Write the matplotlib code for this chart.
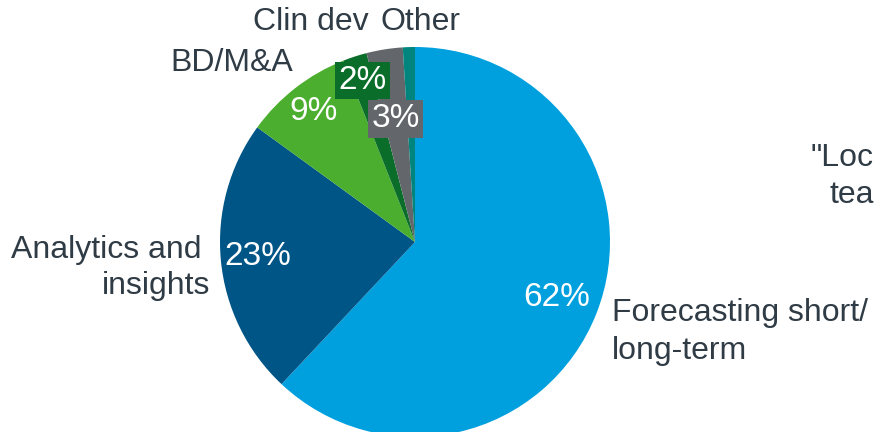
import numpy as np
import matplotlib.pyplot as plt

# ===== data =====
categories = ["Forecasting short/\nlong-term", "Analytics and \ninsights", "BD/M&A",
              "Clin dev", "", "Other"]
shares = [62, 23, 9, 2, 3, 1]
pct_labels = ["62%", "23%", "9%", "2%", "3%", ""]
colors = ["#00A0DF", "#005587", "#4BAE2E", "#0A6E2A", "#63676B", "#00857E"]

W, H = 874, 432
CX, CY, R = 415, H - 242, 195
TXT = "#2F3B45"
FS_CAT, FS_PCT = 23, 24

plt.rcParams["font.family"] = ["Liberation Sans", "DejaVu Sans"]

fig = plt.figure(figsize=(W / 100, H / 100), dpi=100)
ax = fig.add_axes([0, 0, 1, 1])

wedges, _ = ax.pie(shares, colors=colors, startangle=90, counterclock=False,
                   center=(CX, CY), radius=R, frame=True,
                   wedgeprops=dict(linewidth=0))
ax.set_xlim(0, W)
ax.set_ylim(0, H)
ax.set_aspect("equal")
ax.axis("off")

# percentage labels inside the slices
rfrac = [0.78, 0.81, 0.85, 0.87, 0.64, 0.5]
boxed = [False, False, False, True, True, False]
for w, lab, rf, bx, c in zip(wedges, pct_labels, rfrac, boxed, colors):
    if not lab:
        continue
    a = np.deg2rad((w.theta1 + w.theta2) / 2)
    x, y = CX + rf * R * np.cos(a), CY + rf * R * np.sin(a)
    kw = {}
    if bx:
        kw["bbox"] = dict(facecolor=c, edgecolor="none", boxstyle="square,pad=0.1")
    ax.text(x, y, lab, color="white", fontsize=FS_PCT, ha="center", va="center", **kw)

# category labels
ax.text(612, H - 332, categories[0], color=TXT, fontsize=FS_CAT, ha="left", va="center",
        linespacing=1.35)
ax.text(210, H - 268, categories[1], color=TXT, fontsize=FS_CAT, ha="right", va="center",
        linespacing=1.3)
ax.text(232, H - 63, categories[2], color=TXT, fontsize=FS_CAT, ha="center", va="center")
ax.text(311, H - 22, categories[3], color=TXT, fontsize=FS_CAT, ha="center", va="center")
ax.text(420, H - 22, categories[5], color=TXT, fontsize=FS_CAT, ha="center", va="center")

# neighbouring panel text, cut off by the frame
ax.text(811, H - 158, '"Loc', color=TXT, fontsize=FS_CAT, ha="left", va="center")
ax.text(830, H - 195, 'tea', color=TXT, fontsize=FS_CAT, ha="left", va="center")

fig.savefig("out.png", dpi=100)
